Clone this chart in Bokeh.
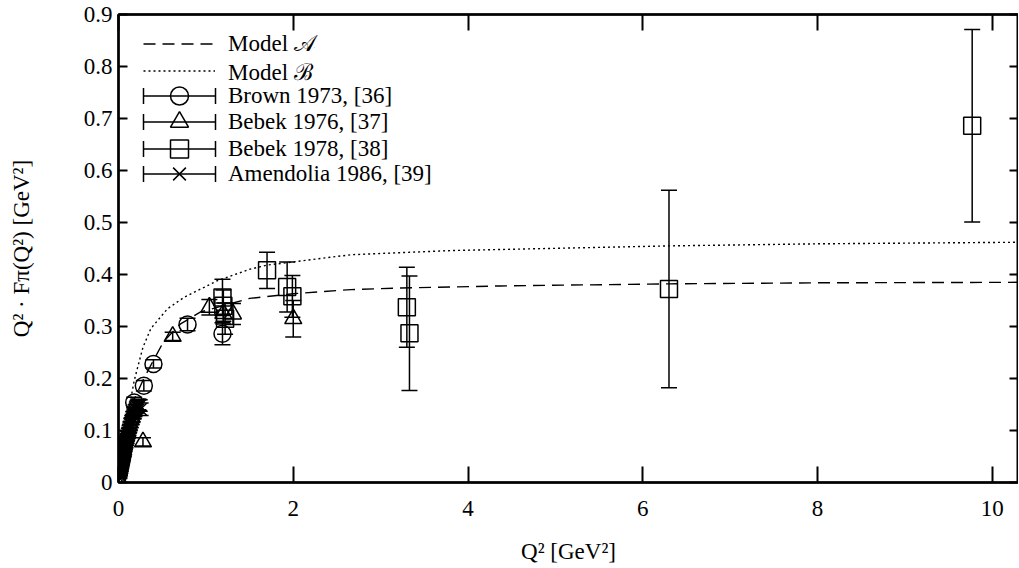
import numpy as np
from bokeh.plotting import figure
from bokeh.models import (ColumnDataSource, Whisker, TeeHead, LinearAxis, FixedTicker,
                          Legend, LegendItem, Range1d, NumeralTickFormatter)
from bokeh.embed import file_html
from bokeh.resources import INLINE

FONT = "Liberation Serif"

# ---------------- data ----------------
model_a_x = [0.0, 0.02, 0.05, 0.10, 0.18, 0.29, 0.40, 0.52, 0.71, 0.94, 1.5, 2.0, 2.66, 3.23, 4.37, 6.3, 8.0, 10.3]
model_a_y = [0.0, 0.022, 0.052, 0.097, 0.160, 0.200, 0.235, 0.272, 0.305, 0.328, 0.354, 0.363, 0.371, 0.374, 0.378, 0.382, 0.384, 0.385]

model_b_x = [0.0, 0.02, 0.05, 0.10, 0.18, 0.22, 0.28, 0.37, 0.56, 0.75, 1.13, 1.5, 1.7, 2.66, 3.8, 6.3, 8.0, 10.3]
model_b_y = [0.0, 0.025, 0.062, 0.125, 0.196, 0.222, 0.260, 0.296, 0.334, 0.356, 0.388, 0.410, 0.418, 0.438, 0.446, 0.455, 0.459, 0.462]

brown_x = [0.18, 0.29, 0.40, 0.79, 1.19]
brown_y = [0.154, 0.186, 0.228, 0.304, 0.286]
brown_err = [0.010, 0.010, 0.008, 0.012, 0.021]

bebek76_x = [0.28, 0.62, 1.04, 1.20, 1.31, 2.00]
bebek76_y = [0.078, 0.281, 0.337, 0.325, 0.324, 0.315]
bebek76_err = [0.008, 0.008, 0.015, 0.020, 0.020, 0.035]

bebek78_x = [1.19, 1.20, 1.22, 1.70, 1.93, 1.99, 3.30, 3.33, 6.30, 9.77]
bebek78_y = [0.356, 0.340, 0.315, 0.408, 0.376, 0.358, 0.337, 0.287, 0.372, 0.686]
bebek78_err = [0.035, 0.030, 0.030, 0.035, 0.048, 0.040, 0.077, 0.110, 0.190, 0.185]

amend_x = [0.010, 0.013, 0.015, 0.017, 0.019, 0.021, 0.023, 0.025, 0.027, 0.029, 0.031, 0.033,
           0.035, 0.037, 0.039, 0.041, 0.043, 0.045, 0.047, 0.049, 0.051, 0.053, 0.055, 0.057,
           0.059, 0.061, 0.063, 0.065, 0.067, 0.070, 0.072, 0.075, 0.077, 0.080, 0.083, 0.086,
           0.089, 0.092, 0.095, 0.099, 0.102, 0.106, 0.110, 0.114, 0.118, 0.123, 0.127, 0.132,
           0.136, 0.141, 0.146, 0.152, 0.157, 0.163, 0.168, 0.175, 0.181, 0.188, 0.195, 0.203,
           0.210, 0.218, 0.226, 0.235, 0.243, 0.253]
amend_y = [0.0085, 0.0125, 0.0150, 0.0160, 0.0190, 0.0195, 0.0230, 0.0235, 0.0265, 0.0270,
           0.0305, 0.0300, 0.0345, 0.0335, 0.0375, 0.0370, 0.0415, 0.0400, 0.0445, 0.0440,
           0.0480, 0.0470, 0.0515, 0.0505, 0.0550, 0.0535, 0.0585, 0.0570, 0.0615, 0.0630,
           0.0660, 0.0665, 0.0700, 0.0705, 0.0745, 0.0750, 0.0790, 0.0790, 0.0830, 0.0850,
           0.0880, 0.0895, 0.0935, 0.0950, 0.0990, 0.1010, 0.1045, 0.1065, 0.1110, 0.1120,
           0.1170, 0.1180, 0.1220, 0.1240, 0.1290, 0.1300, 0.1340, 0.1370, 0.1410, 0.1420,
           0.1460, 0.1480, 0.1500, 0.1490, 0.1480, 0.1410]
amend_err = [0.001, 0.001, 0.001, 0.001, 0.001, 0.0015, 0.0015, 0.0015, 0.0015, 0.0015, 0.0015,
             0.002, 0.002, 0.002, 0.002, 0.002, 0.002, 0.002, 0.002, 0.0025, 0.0025, 0.0025,
             0.0025, 0.0025, 0.0025, 0.003, 0.003, 0.003, 0.003, 0.003, 0.003, 0.003, 0.003,
             0.0035, 0.0035, 0.0035, 0.0035, 0.004, 0.004, 0.004, 0.004, 0.0045, 0.0045, 0.0045,
             0.005, 0.005, 0.005, 0.0055, 0.0055, 0.006, 0.006, 0.0065, 0.0065, 0.007, 0.007,
             0.0075, 0.0075, 0.008, 0.008, 0.0085, 0.009, 0.0095, 0.010, 0.0105, 0.011, 0.012]

x_ticks = [0, 2, 4, 6, 8, 10]
y_ticks = [0, 0.1, 0.2, 0.3, 0.4, 0.5, 0.6, 0.7, 0.8, 0.9]

legend_labels = ["Model 𝒜", "Model ℬ", "Brown 1973, [36]", "Bebek 1976, [37]",
                 "Bebek 1978, [38]", "Amendolia 1986, [39]"]

# ---------------- figure ----------------
p = figure(frame_width=900, frame_height=468, output_backend="svg", toolbar_location=None,
           x_range=Range1d(0, 10.3), y_range=Range1d(0, 0.9),
           min_border_left=118, min_border_right=0, min_border_top=14, min_border_bottom=84,
           x_axis_label="Q² [GeV²]", y_axis_label="Q² · Fπ(Q²) [GeV²]")
p.grid.visible = False
p.outline_line_color = "black"
p.outline_line_width = 2
p.background_fill_color = "white"
p.border_fill_color = "white"

bottom_ax = p.below[0]
left_ax = p.left[0]
top_ax = LinearAxis()
right_ax = LinearAxis()
p.add_layout(top_ax, "above")
p.add_layout(right_ax, "right")

for ax in (bottom_ax, top_ax):
    ax.ticker = FixedTicker(ticks=x_ticks)
    ax.major_tick_in = 16
for ax in (left_ax, right_ax):
    ax.ticker = FixedTicker(ticks=y_ticks)
    ax.formatter = NumeralTickFormatter(format="0.[0]")
    ax.major_tick_in = 9
for ax in (bottom_ax, top_ax, left_ax, right_ax):
    ax.major_tick_out = 0
    ax.minor_tick_in = 0
    ax.minor_tick_out = 0
    ax.axis_line_width = 2.5
    ax.axis_line_color = "black"
    ax.major_tick_line_width = 2
    ax.major_tick_line_color = "black"
    ax.major_label_text_font = FONT
    ax.major_label_text_font_size = "23px"
    ax.major_label_text_color = "black"
    ax.axis_label_text_font = FONT
    ax.axis_label_text_font_size = "23px"
    ax.axis_label_text_font_style = "normal"
    ax.axis_label_text_color = "black"
for ax in (top_ax, right_ax):
    ax.major_label_text_font_size = "0px"
    ax.major_label_text_color = None
    ax.major_label_standoff = 0
    ax.axis_label = None

bottom_ax.major_label_standoff = 18
bottom_ax.axis_label_standoff = 20
left_ax.major_label_standoff = 6
left_ax.axis_label_standoff = 47

# ---------------- model curves ----------------
r_a = p.line(model_a_x, model_a_y, line_color="black", line_width=1.4, line_dash="12 7")
r_b = p.line(model_b_x, model_b_y, line_color="black", line_width=1.4, line_dash="2 3")

# ---------------- data with error bars ----------------
def add_series(xs, ys, errs, marker):
    src = ColumnDataSource(dict(x=xs, y=ys,
                                upper=[y + e for y, e in zip(ys, errs)],
                                lower=[y - e for y, e in zip(ys, errs)]))
    w = Whisker(source=src, base="x", upper="upper", lower="lower", dimension="height",
                line_color="black", line_width=1.5,
                upper_head=TeeHead(size=16, line_color="black", line_width=1.5),
                lower_head=TeeHead(size=16, line_color="black", line_width=1.5))
    p.add_layout(w)
    return p.scatter("x", "y", source=src, marker=marker, size=17, fill_color=None,
                     line_color="black", line_width=1.5)

r_amd = add_series(amend_x, amend_y, amend_err, "x")
r_brown = add_series(brown_x, brown_y, brown_err, "circle")
r_b76 = add_series(bebek76_x, bebek76_y, bebek76_err, "triangle")
r_b78 = add_series(bebek78_x, bebek78_y, bebek78_err, "square")

# legend-only glyphs for the error-bar symbol (no visible data)
nan_src = ColumnDataSource(dict(x=[np.nan], y=[np.nan]))
r_mid = p.line("x", "y", source=nan_src, line_color="black", line_width=1.5, line_dash="0 9 72 9")
r_caps = p.quad(left="x", right="x", top="y", bottom="y", source=nan_src, fill_color=None,
                line_color="black", line_width=1.5, line_dash="0 82 16 92 16 10")

# one legend box per row (rows overlap vertically; background is transparent)
row_bottoms = [416, 389, 364, 338, 311, 286]
entries = [
    (legend_labels[0], [r_a], 25, 72, 13),
    (legend_labels[1], [r_b], 25, 72, 13),
    (legend_labels[2], [r_mid, r_caps, r_brown], 16, 90, 4),
    (legend_labels[3], [r_mid, r_caps, r_b76], 16, 90, 4),
    (legend_labels[4], [r_mid, r_caps, r_b78], 16, 90, 4),
    (legend_labels[5], [r_mid, r_caps, r_amd], 16, 90, 4),
]
for (label, rends, lx, gw, standoff), yb in zip(entries, row_bottoms):
    lg = Legend(items=[LegendItem(label=label, renderers=rends)], location=(lx, yb),
                margin=0, padding=0, spacing=0, glyph_width=gw, glyph_height=45,
                label_standoff=standoff, border_line_color=None, background_fill_alpha=0,
                label_text_font=FONT, label_text_font_size="23px", label_text_color="black")
    p.add_layout(lg)

open("out.html", "w").write(file_html(p, INLINE))
